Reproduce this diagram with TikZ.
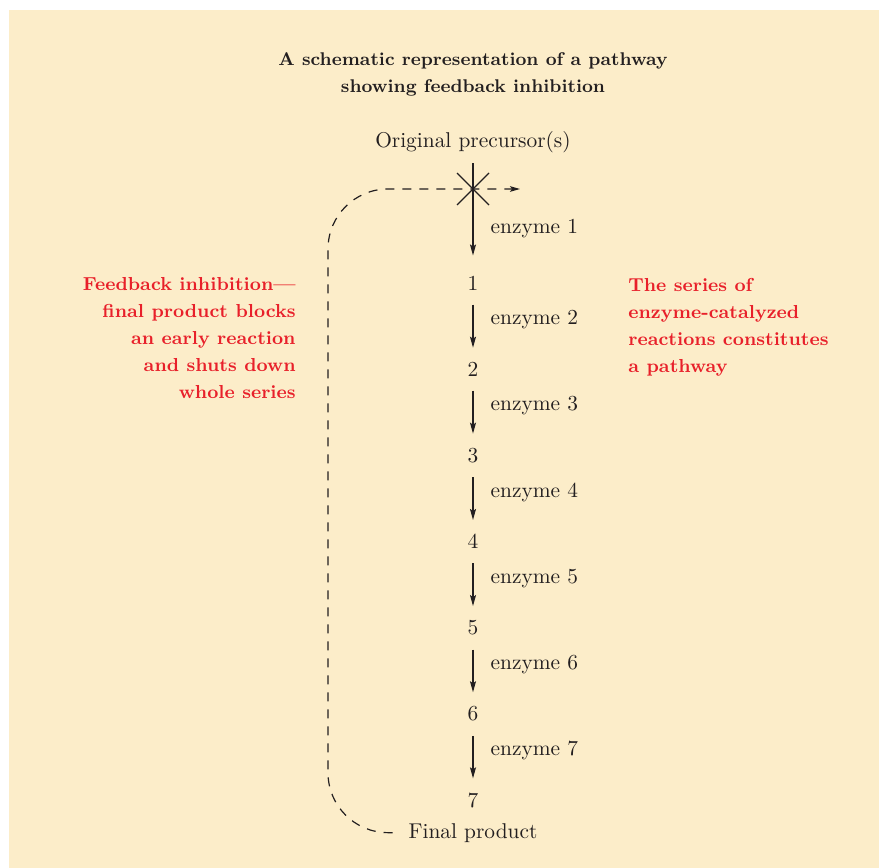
\documentclass[tikz,border=0pt]{standalone}
\usepackage{tikz}
\usetikzlibrary{arrows.meta}

\definecolor{paper}{RGB}{252,237,201}
\definecolor{ink}{RGB}{35,31,32}
\definecolor{alert}{RGB}{232,32,42}

\begin{document}
\begin{tikzpicture}[
    x=0.5pt, y=-0.5pt,
    flow/.style={-{Stealth[length=5.5pt, width=3pt, inset=1pt]}, draw=ink, line width=0.6pt, shorten <=7pt, shorten >=7pt},
    feedback/.style={-{Stealth[length=5pt, width=2.8pt, inset=1pt]}, draw=ink, line width=0.6pt, dash pattern=on 4.5pt off 4pt, rounded corners=30pt},
    txt/.style={font=\fontsize{10.7}{13}\selectfont, text=ink},
    stepnum/.style={txt, inner sep=0pt},
    enz/.style={txt, anchor=west, inner sep=0pt, xshift=8.5pt},
    heading/.style={font=\fontsize{9.2}{13.5}\selectfont\bfseries, text=ink, align=center, inner sep=0pt},
    note/.style={font=\fontsize{9.4}{13.5}\selectfont\bfseries, text=alert, inner sep=0pt}
  ]
    \useasboundingbox (0,0) rectangle (879,868);
    \fill[paper] (9,10) rectangle (879,868);

    \node[heading] (title) at (473,74) {A schematic representation of a pathway\\showing feedback inhibition};

    \node[txt, inner sep=0pt, anchor=base] (prec) at (473,147) {Original precursor(s)};
    \foreach \i in {1,...,7}
      \node[stepnum] (n\i) at (473,283+86.2*\i-86.2) {\i};
    \node[txt, anchor=base] (fp) at (473,838) {Final product};

    % pathway
    \draw[flow, shorten <=5.3pt, shorten >=10pt] (prec) -- node[enz, pos=0.62] {enzyme 1} (n1);
    \foreach \i/\j in {1/2,2/3,3/4,4/5,5/6,6/7}
      \draw[flow] (n\i) -- node[enz, pos=0.41] {enzyme \j} (n\j);

    % blocked step
    \coordinate (block) at (473,189);
    \draw[ink, line width=0.6pt] (block) ++(-16,-16) -- ++(32,32);
    \draw[ink, line width=0.6pt] (block) ++(-16,16) -- ++(32,-32);

    % feedback loop
    \coordinate (turn) at (328,189);
    \coordinate (stop) at (520,189);
    \draw[feedback, shorten <=4.5pt] (fp.west) -| (turn) -- (stop);

    \node[note, align=right, anchor=east] (inhib) at (296,338.5)
      {Feedback inhibition---\\final product blocks\\an early reaction\\and shuts down\\whole series};
    \node[note, align=left, anchor=west] (series) at (628,327)
      {The series of\\enzyme-catalyzed\\reactions constitutes\\a pathway};
\end{tikzpicture}
\end{document}
